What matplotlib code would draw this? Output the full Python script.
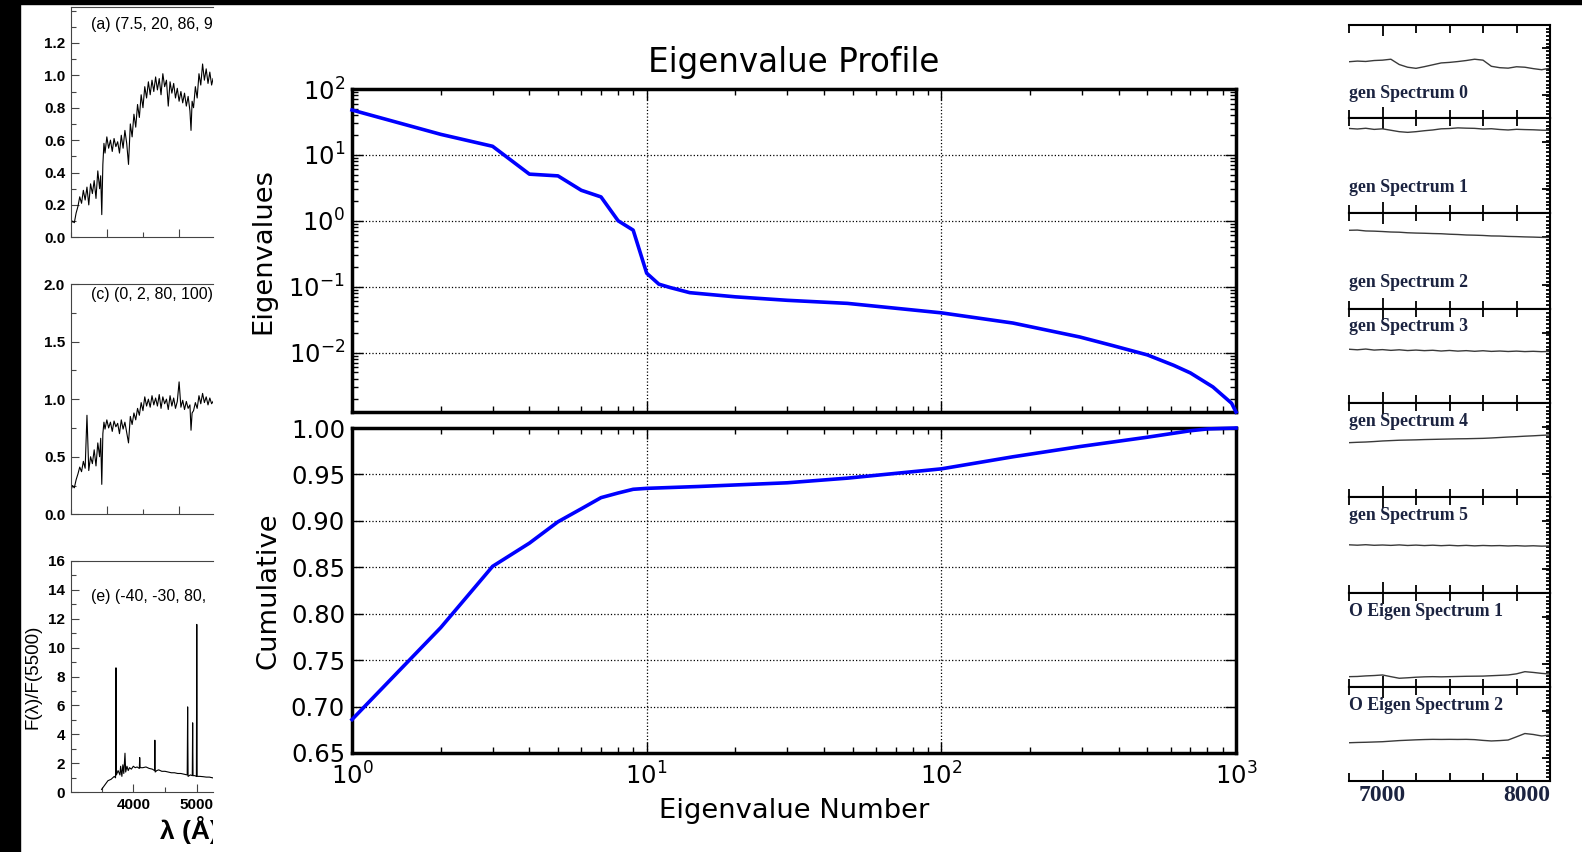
# -*- coding: utf-8 -*-
"""
Eigenvalue profile collage: cropped spectra (left), eigenvalue profile (centre),
cropped eigen-spectra stack (right).
"""
import matplotlib
matplotlib.use("Agg")
import matplotlib.pyplot as plt
from matplotlib.patches import Rectangle
from matplotlib.ticker import MultipleLocator, FixedLocator, FormatStrFormatter
from matplotlib.transforms import Bbox, TransformedBbox

plt.rcParams['axes.unicode_minus'] = False

# ========== data: eigenvalue profile ==========
eig_n = [1, 2, 3, 4, 5, 6, 7, 8, 9, 10, 11, 12, 14, 20, 30, 48, 100, 175, 295,
         380, 500, 614, 700, 835, 966, 1000]
eig_v = [48, 20.5, 13.5, 5.1, 4.8, 2.9, 2.3, 1.0, 0.72, 0.16, 0.109, 0.097, 0.081,
         0.070, 0.062, 0.0557, 0.040, 0.028, 0.0172, 0.0128, 0.0092, 0.0064,
         0.0049, 0.0030, 0.0017, 0.00125]

cum_n = [1, 2, 3, 4, 5, 6, 7, 8, 9, 10, 15, 30, 48, 100, 175, 295, 498, 698, 800, 1000]
cum_v = [0.686, 0.785, 0.851, 0.876, 0.899, 0.913, 0.925, 0.930, 0.934, 0.935,
         0.937, 0.941, 0.946, 0.956, 0.969, 0.980, 0.990, 0.997, 0.999, 1.0]

cum_ticks = [0.65, 0.70, 0.75, 0.80, 0.85, 0.90, 0.95, 1.00]

# ========== data: left spectra (cropped) ==========
spec_ac_wave = [3500, 3525, 3550, 3575, 3600, 3625, 3650, 3675, 3700, 3725, 3750, 3775,
                3800, 3825, 3850, 3875, 3900, 3915, 3930, 3945, 3960, 3975,
                4000, 4025, 4050, 4075, 4100, 4125, 4150, 4175, 4200, 4225, 4250, 4275,
                4300, 4325, 4350, 4375, 4400, 4425, 4450, 4475, 4500, 4525, 4550, 4575,
                4600, 4625, 4650, 4675, 4700, 4725, 4750, 4775, 4800, 4825, 4850, 4875,
                4900, 4925, 4950, 4975, 5000, 5025, 5050, 5075, 5100, 5125, 5150,
                5165, 5180, 5200, 5225, 5250, 5275, 5300, 5325, 5350, 5375, 5400, 5425,
                5450, 5470]
spec_a_flux = [.08, .10, .09, .15, .19, .25, .21, .29, .23, .31, .20, .33, .27, .35, .24,
               .41, .30, .38, .14, .45, .58, .52,
               .62, .55, .60, .53, .61, .56, .59, .52, .63, .55, .66, .58, .45, .70, .62,
               .76, .68, .82, .74, .88, .80, .93, .86, .96, .88, .97, .90, .99, .91, .98,
               .88, 1.01, .93, .97, .81, .96, .89, .95, .86, .92, .84, .90, .83, .89, .81,
               .87, .78,
               .66, .84, .80, .93, .86, 1.01, .94, 1.07, .97, 1.04, .95, 1.02, .94, .98]
spec_c_flux = [.20, .25, .23, .30, .35, .41, .37, .46, .40, .86, .38, .50, .44, .56, .42,
               .62, .50, .66, .26, .70, .80, .74,
               .82, .75, .80, .72, .81, .76, .79, .70, .82, .74, .80, .71, .62, .85, .78,
               .88, .82, .92, .86, .97, .90, 1.02, .94, 1.00, .93, 1.03, .95, 1.01, .94,
               1.04, .92, 1.02, .96, 1.00, .91, 1.03, .94, 1.01, .92, .98, 1.15, .93, .99,
               .91, .98, .92, .95,
               .73, .88, .90, .97, .92, 1.03, .96, 1.05, .97, 1.02, .95, 1.01, .96, .98]

spec_e_wave = [3500, 3550, 3600, 3650, 3700, 3720, 3727, 3734, 3760, 3790, 3800, 3820,
               3835, 3850, 3869, 3880, 3900, 3920, 3940, 3970, 4000, 4030, 4060, 4095,
               4101, 4108, 4150, 4200, 4250, 4300, 4335, 4340, 4345, 4370, 4400, 4450,
               4500, 4550, 4600, 4650, 4700, 4750, 4800, 4850, 4857, 4864, 4900, 4930,
               4936, 4942, 4970, 4995, 5001, 5007, 5050, 5100, 5150, 5200, 5250]
spec_e_flux = [0.2, 0.5, 0.8, 0.9, 1.1, 1.0, 8.6, 1.2, 1.5, 1.2, 1.8, 1.1,
               1.9, 1.3, 2.7, 1.4, 1.8, 1.5, 1.7, 1.6, 1.8, 1.7, 1.75, 1.65,
               2.4, 1.7, 1.7, 1.75, 1.65, 1.6, 1.5, 3.6, 1.4, 1.5, 1.55, 1.45,
               1.45, 1.4, 1.35, 1.35, 1.3, 1.3, 1.25, 1.2, 5.9, 1.1, 1.2, 1.15,
               4.8, 1.15, 1.15, 1.1, 11.6, 1.1, 1.1, 1.08, 1.05, 1.05, 1.0]

left_labels = ["(a) (7.5, 20, 86, 92", "(c) (0, 2, 80, 100)", "(e) (-40, -30, 80,"]
a_yticks = ["0.0", "0.2", "0.4", "0.6", "0.8", "1.0", "1.2"]
c_yticks = ["0.0", "0.5", "1.0", "1.5", "2.0"]
e_yticks = ["0", "2", "4", "6", "8", "10", "12", "14", "16"]
e_xticks = ["4000", "5000"]

# ========== data: right eigen-spectra (cropped) ==========
rp_wave = [6800, 6850, 6900, 6950, 7000, 7050, 7100, 7150, 7200, 7250, 7300, 7350, 7400,
           7450, 7500, 7550, 7600, 7650, 7700, 7750, 7800, 7850, 7900, 7950, 8000]
rp_flux = [
    [.605, .612, .608, .618, .622, .632, .575, .546, .534, .552, .572, .592, .598, .607,
     .618, .632, .622, .556, .541, .536, .551, .546, .531, .519, .536],
    [.890, .884, .892, .880, .886, .871, .856, .849, .856, .866, .874, .886, .889, .896,
     .893, .891, .884, .887, .879, .874, .881, .878, .876, .872, .870],
    [.820, .822, .813, .811, .807, .802, .800, .794, .791, .789, .786, .784, .779, .776,
     .771, .769, .766, .761, .760, .756, .754, .751, .749, .746, .745],
    [.572, .566, .574, .563, .568, .560, .566, .558, .563, .557, .561, .553, .559, .552,
     .557, .550, .556, .549, .553, .548, .552, .547, .550, .546, .549],
    [.578, .582, .585, .590, .596, .600, .604, .606, .608, .611, .613, .615, .617, .619,
     .620, .622, .624, .628, .633, .638, .642, .647, .651, .656, .660],
    [.502, .498, .503, .497, .500, .496, .501, .495, .499, .494, .498, .493, .497, .492,
     .496, .491, .495, .492, .494, .490, .493, .489, .492, .488, .490],
    [.110, .112, .118, .122, .128, .110, .093, .098, .104, .108, .110, .108, .110, .112,
     .114, .115, .116, .120, .124, .128, .140, .163, .155, .145, .138],
    [.407, .410, .412, .415, .418, .424, .430, .434, .438, .441, .443, .442, .443, .442,
     .443, .440, .432, .426, .430, .436, .470, .505, .495, .479, .489],
]
rp_labels = ["gen Spectrum 0", "gen Spectrum 1", "gen Spectrum 2", "gen Spectrum 3",
             "gen Spectrum 4", "gen Spectrum 5", "O Eigen Spectrum 1", "O Eigen Spectrum 2"]
rp_xticks = ["7000", "8000"]

# ========== layout (reference pixels) ==========
W, H = 1582, 852


def rect(x0, y0, x1, y1):
    """pixel box (top-left origin) -> figure fraction rect"""
    return [x0 / W, 1 - y1 / H, (x1 - x0) / W, (y1 - y0) / H]


fig = plt.figure(figsize=(W / 100, H / 100), dpi=100)
fig.patch.set_facecolor('white')

# black borders of the collage
fig.add_artist(Rectangle((0, 0), 20 / W, 1, transform=fig.transFigure,
                         color='black', zorder=20))
fig.add_artist(Rectangle((0, 1 - 4 / H), 1, 4 / H, transform=fig.transFigure,
                         color='black', zorder=20))

# ========== left panels ==========
CUT_X = 212.7
clip_left = TransformedBbox(Bbox([[0, 0], [CUT_X / W, 1]]), fig.transFigure)
sans_b = {'family': 'Liberation Sans', 'weight': 'bold', 'size': 11}


def clipped_text(x, y, s, **kw):
    t = fig.text(x / W, 1 - y / H, s, **kw)
    t.set_clip_box(clip_left)
    t.set_clip_on(True)
    return t


def left_panel(y0, y1, wave, flux, xlim, ylim, ytick_labels, yminor,
               xmajor, xminor, label, label_y):
    ax = fig.add_axes(rect(70.7, y0, CUT_X, y1))
    ax.plot(wave, flux, color='black', lw=0.8)
    ax.set_xlim(*xlim)
    ax.set_ylim(*ylim)
    ax.spines['right'].set_visible(False)
    for s in ax.spines.values():
        s.set_linewidth(0.8)
        s.set_color('#444444')
    ax.set_yticks([float(v) for v in ytick_labels])
    ax.set_yticklabels(ytick_labels, fontdict=sans_b)
    ax.yaxis.set_minor_locator(MultipleLocator(yminor))
    ax.xaxis.set_major_locator(FixedLocator(xmajor))
    ax.xaxis.set_minor_locator(FixedLocator(xminor))
    ax.tick_params(which='both', direction='in', top=False, right=False,
                   width=0.8, color='#444444', pad=4)
    ax.tick_params(which='major', length=6)
    ax.tick_params(which='minor', length=3.5)
    ax.tick_params(axis='x', labelbottom=False)
    clipped_text(90.7, label_y, label, family='Liberation Sans', fontsize=11.4,
                 va='center', ha='left')
    return ax


left_panel(7.3, 237.3, spec_ac_wave, spec_a_flux, (3500, 5465), (0, 1.42),
           a_yticks, 0.1, [4000, 5000], [3500, 4500], left_labels[0], 25)
left_panel(284, 514.3, spec_ac_wave, spec_c_flux, (3500, 5465), (0, 2.0),
           c_yticks, 0.25, [4000, 5000], [3500, 4500], left_labels[1], 295)
ax_e = left_panel(560.7, 792.3, spec_e_wave, spec_e_flux, (3013, 5252), (0, 16),
                  e_yticks, 1, [4000, 5000], [3500, 4500], left_labels[2], 597)
ax_e.tick_params(axis='x', labelbottom=True, pad=4)
ax_e.set_xticklabels(e_xticks, fontdict=sans_b)

fig.text(33 / W, 1 - 677 / H, "F(λ)/F(5500)", rotation=90, ha='center', va='center',
         family='Liberation Sans', fontsize=13.5)
clipped_text(160, 830, "λ (Å)", family='Liberation Sans', weight='bold',
             fontsize=19, va='center', ha='left')

# ========== centre: eigenvalue profile ==========
LINE_BLUE = '#0000ff'


def style_centre(ax):
    for s in ax.spines.values():
        s.set_linewidth(2.5)
    ax.grid(True, which='major', ls=':', color='black', lw=0.9)
    ax.tick_params(which='both', direction='in', top=True, right=True,
                   labelsize=17.5, width=1.0)
    ax.tick_params(which='major', length=8)
    ax.tick_params(which='minor', length=4)
    ax.tick_params(axis='y', pad=5)
    ax.tick_params(axis='x', pad=7)


ax1 = fig.add_axes(rect(352, 89, 1236, 412))
ax1.loglog(eig_n, eig_v, color=LINE_BLUE, lw=2.6, zorder=3, clip_on=False)
ax1.set_xlim(1, 1000)
ax1.set_ylim(1.25e-3, 100)
style_centre(ax1)
ax1.tick_params(axis='x', labelbottom=False)
ax1.set_title('Eigenvalue Profile', fontsize=23.5, pad=12)
ax1.set_ylabel('Eigenvalues', fontsize=19.7)
ax1.yaxis.set_label_coords(-0.085, 0.5)

ax2 = fig.add_axes(rect(352, 428, 1236, 753))
ax2.semilogx(cum_n, cum_v, color=LINE_BLUE, lw=2.6, zorder=3, clip_on=False)
ax2.set_xlim(1, 1000)
ax2.set_ylim(0.65, 1.0)
ax2.set_yticks(cum_ticks)
ax2.yaxis.set_major_formatter(FormatStrFormatter('%.2f'))
style_centre(ax2)
ax2.set_ylabel('Cumulative', fontsize=19.7)
ax2.yaxis.set_label_coords(-0.08, 0.5)
ax2.set_xlabel('Eigenvalue Number', fontsize=19.7)
ax2.xaxis.set_label_coords(0.5, -0.14)

# ========== right: eigen-spectra stack ==========
rp_edges = [25, 118, 213, 309, 403, 497, 593, 687, 781]
rp_label_y = [93, 188, 282, 326.7, 421.7, 515, 612, 706]
TXT_NAVY = '#1b2340'
serif_b = {'family': 'Liberation Serif', 'weight': 'bold'}

for i in range(8):
    top, bot = rp_edges[i], rp_edges[i + 1]
    ax = fig.add_axes(rect(1349, top, 1550, bot))
    ax.plot(rp_wave, rp_flux[i], color='#3a3a3a', lw=1.0)
    ax.set_xlim(6800, 8000)
    ax.set_ylim(0, 1)
    ax.spines['left'].set_visible(False)
    for s in ax.spines.values():
        s.set_linewidth(1.5)
    ax.xaxis.set_major_locator(FixedLocator([7000, 8000]))
    ax.xaxis.set_minor_locator(FixedLocator([6800, 7200, 7400, 7600, 7800]))
    ax.yaxis.set_major_locator(FixedLocator([0.25, 0.75]))
    ax.yaxis.set_minor_locator(MultipleLocator(0.04))
    ax.tick_params(which='both', direction='in', top=True, bottom=True,
                   left=False, right=True, labelleft=False, labelbottom=False,
                   width=1.3)
    ax.tick_params(axis='x', which='major', length=8)
    ax.tick_params(axis='x', which='minor', length=5.5)
    ax.tick_params(axis='y', which='major', length=6)
    ax.tick_params(axis='y', which='minor', length=3)
    ax.text(0.0, 1 - (rp_label_y[i] - top) / (bot - top), rp_labels[i],
            transform=ax.transAxes, ha='left', va='center', color=TXT_NAVY,
            fontsize=12.8, **serif_b)
    if i == 7:
        ax.tick_params(axis='x', labelbottom=True, pad=3)
        ax.set_xticklabels(rp_xticks, fontdict=dict(size=17, color=TXT_NAVY, **serif_b))
        ax.get_xticklabels()[1].set_horizontalalignment('right')

fig.savefig('out.png', dpi=100, facecolor=fig.get_facecolor())
